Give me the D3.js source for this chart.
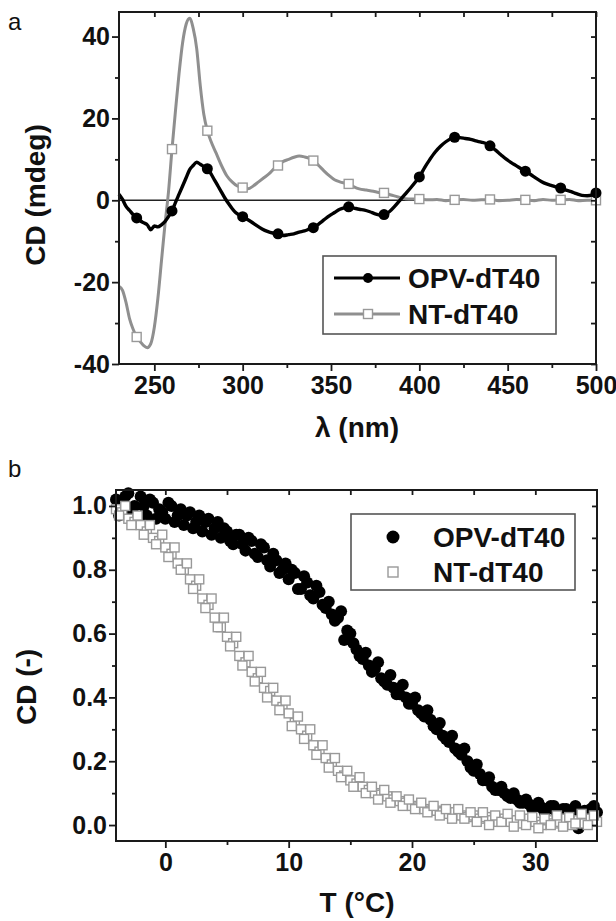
<!DOCTYPE html>
<html>
<head>
<meta charset="utf-8">
<script src="https://cdn.jsdelivr.net/npm/d3@7"></script>
<style>
  body { margin: 0; background: #fff; }
  svg text { font-family: "Liberation Sans", Arial, sans-serif; }
</style>
</head>
<body>
<div id="chart"></div>
<script>
"use strict";

// Panel a: CD spectra (wavelength in nm, CD in mdeg)
var ntLambda = [230, 232, 234, 236, 238, 240, 242, 244, 246, 248, 250, 252, 254, 256, 258, 260, 262, 264, 266, 268,
    270, 272, 274, 276, 278, 280, 282, 285, 288, 291, 294, 297, 300, 303, 306, 309, 312, 315, 318, 320,
    323, 326, 329, 332, 335, 338, 340, 343, 346, 349, 352, 355, 358, 360, 363, 366, 370, 374, 377, 380,
    384, 388, 392, 396, 400, 405, 410, 415, 420, 425, 430, 435, 440, 445, 450, 455, 460, 465, 470, 475,
    480, 485, 490, 495, 500]
var ntCD = [-21, -22, -25, -29, -31.5, -33.4, -34.5, -35.5, -36, -35, -31, -24, -15, -6, 2, 12.5, 22, 31, 38.5, 43,
    44.5, 42, 37, 28, 21, 17, 14.5, 11.5, 8.5, 6, 4.5, 3.5, 3.1, 2.8, 3.5, 4.5, 5.5, 6.5, 7.8, 8.5,
    9.5, 10, 10.5, 10.8, 10.6, 10.2, 9.7, 8.5, 7.2, 6, 5, 4.5, 4.2, 4, 3.3, 2.8, 2.5, 2.2, 1.9, 1.8,
    1.3, 0.8, 0.4, 0.3, 0.3, 0.1, 0.2, -0.1, 0.1, 0.2, 0, 0.1, 0.2, -0.1, 0, 0.2, 0.1, -0.1, 0.2, 0,
    0.1, 0.2, -0.1, 0, 0]

var opvLambda = [230, 232, 234, 236, 238, 240, 242, 244, 246, 248, 250, 252, 254, 256, 258, 260, 262, 264, 266, 268,
    270, 272, 274, 276, 278, 280, 282, 284, 286, 288, 290, 292, 294, 296, 298, 300, 302, 305, 308, 311,
    314, 317, 320, 323, 326, 329, 332, 335, 338, 340, 343, 346, 349, 352, 355, 358, 360, 363, 366, 369,
    372, 375, 378, 380, 383, 386, 389, 392, 395, 398, 400, 403, 406, 409, 412, 415, 418, 420, 423, 426,
    429, 432, 435, 438, 440, 443, 446, 449, 452, 455, 458, 460, 463, 466, 469, 472, 475, 478, 480, 483,
    486, 489, 492, 495, 498, 500]
var opvCD = [1.5, 0.2, -1.5, -2.5, -3.5, -4.3, -5, -5.5, -6, -7.2, -6.3, -6.5, -6, -5.2, -4, -2.6, -0.5, 1.5, 3.5, 5.5,
    7.5, 8.5, 9.3, 8.8, 8.2, 7.7, 6.5, 5, 3.5, 2, 0.5, -0.8, -2, -3, -3.6, -4, -4.5, -5.3, -6.2, -7,
    -7.6, -8, -8.2, -8.6, -8.4, -8.2, -7.8, -7.5, -7, -6.7, -5.8, -4.8, -3.8, -3, -2.2, -1.8, -1.6, -1.9, -2.2, -2.4,
    -2.8, -3.3, -3.6, -3.5, -2.8, -1.5, 0, 1.5, 3, 4.6, 5.7, 8, 10, 11.8, 13.2, 14.3, 15.1, 15.4, 15.3, 15.1,
    14.9, 14.5, 14.2, 13.8, 13.3, 12.3, 11.2, 10.1, 9.2, 8.4, 7.6, 7.1, 6.3, 5.4, 4.6, 4, 3.6, 3.2, 3, 2.5,
    2.1, 1.6, 1.2, 1.1, 1.3, 1.8]

// Wavelengths that carry a symbol
var markerLambda = [240, 260, 280, 300, 320, 340, 360, 380, 400, 420, 440, 460, 480, 500]

// Panel b: normalised CD against temperature, two interleaved runs
var tempC = [-4, -3.5, -3, -2.5, -2, -1.5, -1, -0.5, 0, 0.5,
    1, 1.5, 2, 2.5, 3, 3.5, 4, 4.5, 5, 5.5,
    6, 6.5, 7, 7.5, 8, 8.5, 9, 9.5, 10, 10.5,
    11, 11.5, 12, 12.5, 13, 13.5, 14, 14.5, 15, 15.5,
    16, 16.5, 17, 17.5, 18, 18.5, 19, 19.5, 20, 20.5,
    21, 21.5, 22, 22.5, 23, 23.5, 24, 24.5, 25, 25.5,
    26, 26.5, 27, 27.5, 28, 28.5, 29, 29.5, 30, 30.5,
    31, 31.5, 32, 32.5, 33, 33.5, 34, 34.5, 35]
var opvNorm = [1.02, 0.98, 1.04, 1.00, 1.03, 0.97, 1.01, 0.99, 0.96, 1.00,
    0.97, 0.94, 0.98, 0.95, 0.92, 0.96, 0.93, 0.90, 0.92, 0.88,
    0.91, 0.86, 0.89, 0.84, 0.87, 0.81, 0.83, 0.80, 0.77, 0.79,
    0.74, 0.76, 0.71, 0.73, 0.68, 0.66, 0.65, 0.58, 0.60, 0.55,
    0.52, 0.50, 0.49, 0.46, 0.44, 0.43, 0.41, 0.40, 0.38, 0.36,
    0.34, 0.33, 0.30, 0.28, 0.26, 0.24, 0.22, 0.20, 0.17, 0.16,
    0.14, 0.12, 0.11, 0.10, 0.085, 0.08, 0.07, 0.065, 0.06, 0.055,
    0.05, 0.06, 0.045, 0.05, 0.04, -0.01, 0.045, 0.05, 0.04]
var ntNorm = [0.99, 0.98, 0.96, 0.95, 0.94, 0.92, 0.90, 0.89, 0.87, 0.85,
    0.82, 0.80, 0.77, 0.75, 0.71, 0.69, 0.65, 0.62, 0.59, 0.57,
    0.53, 0.51, 0.48, 0.46, 0.43, 0.42, 0.39, 0.37, 0.35, 0.32,
    0.30, 0.28, 0.25, 0.23, 0.21, 0.19, 0.17, 0.155, 0.14, 0.13,
    0.12, 0.11, 0.10, 0.095, 0.09, 0.08, 0.075, 0.07, 0.06, 0.055,
    0.05, 0.045, 0.045, 0.04, 0.035, 0.04, 0.03, 0.025, 0.03, 0.02,
    0.025, 0.015, 0.01, 0.02, 0.01, 0.015, 0.005, 0.02, 0.01, 0.0,
    0.015, 0.005, 0.01, 0.02, 0.0, 0.015, 0.005, 0.02, 0.01]

var tempC2 = [-3.75, -3.25, -2.75, -2.25, -1.75, -1.25, -0.75, -0.25, 0.25, 0.75,
    1.25, 1.75, 2.25, 2.75, 3.25, 3.75, 4.25, 4.75, 5.25, 5.75,
    6.25, 6.75, 7.25, 7.75, 8.25, 8.75, 9.25, 9.75, 10.25, 10.75,
    11.25, 11.75, 12.25, 12.75, 13.25, 13.75, 14.25, 14.75, 15.25, 15.75,
    16.25, 16.75, 17.25, 17.75, 18.25, 18.75, 19.25, 19.75, 20.25, 20.75,
    21.25, 21.75, 22.25, 22.75, 23.25, 23.75, 24.25, 24.75, 25.25, 25.75,
    26.25, 26.75, 27.25, 27.75, 28.25, 28.75, 29.25, 29.75, 30.25, 30.75,
    31.25, 31.75, 32.25, 32.75, 33.25, 33.75, 34.25, 34.75]
var opvNorm2 = [0.97, 1.03, 0.99, 0.95, 1.00, 1.02, 0.96, 0.98, 1.01, 0.95,
    0.99, 0.97, 0.93, 0.97, 0.95, 0.91, 0.95, 0.93, 0.89, 0.91,
    0.88, 0.90, 0.85, 0.88, 0.83, 0.85, 0.79, 0.82, 0.80, 0.74,
    0.78, 0.72, 0.75, 0.69, 0.70, 0.64, 0.67, 0.61, 0.57, 0.53,
    0.54, 0.48, 0.51, 0.45, 0.47, 0.41, 0.44, 0.38, 0.40, 0.35,
    0.36, 0.31, 0.32, 0.27, 0.28, 0.23, 0.24, 0.18, 0.19, 0.14,
    0.15, 0.11, 0.12, 0.09, 0.10, 0.07, 0.08, 0.05, 0.07, 0.04,
    0.06, 0.04, 0.05, 0.03, 0.06, 0.02, 0.04, 0.06]
var ntNorm2 = [0.97, 1.00, 0.94, 0.97, 0.91, 0.94, 0.88, 0.91, 0.84, 0.87,
    0.80, 0.82, 0.74, 0.77, 0.68, 0.71, 0.62, 0.65, 0.56, 0.59,
    0.50, 0.53, 0.45, 0.48, 0.40, 0.43, 0.36, 0.39, 0.31, 0.34,
    0.27, 0.30, 0.22, 0.25, 0.18, 0.21, 0.15, 0.17, 0.12, 0.15,
    0.10, 0.12, 0.08, 0.11, 0.07, 0.09, 0.06, 0.08, 0.05, 0.07,
    0.04, 0.06, 0.03, 0.05, 0.02, 0.05, 0.02, 0.04, 0.01, 0.04,
    0.00, 0.03, 0.01, 0.035, -0.005, 0.03, 0.0, 0.025, -0.01, 0.02,
    0.0, 0.03, -0.005, 0.025, 0.005, 0.035, 0.0, 0.03]

// Tick values
var aMajorX = [250, 300, 350, 400, 450, 500]
var aMinorX = [275, 325, 375, 425, 475]
var aMajorY = [-40, -20, 0, 20, 40]
var aMinorY = [-30, -10, 10, 30]
var bMajorX = [0, 10, 20, 30]
var bMinorX = [5, 15, 25]
var bMajorY = [0, 0.2, 0.4, 0.6, 0.8, 1.0]
var bMinorY = [0.1, 0.3, 0.5, 0.7, 0.9]

var seriesNames = ["OPV-dT40", "NT-dT40"]

var width = 616, height = 921
var black = "#000", grey = "#8f8f8f"
var frameColor = "#1a1a1a"

var svg = d3.select("#chart").append("svg")
    .attr("width", width)
    .attr("height", height)

// Draws the box frame, outward major/minor ticks on bottom/left and inward ticks on top/right
function drawFrame(x, y, majorX, minorX, majorY, minorY, fmtX, fmtY) {
    var x0 = x.range()[0], x1 = x.range()[1]
    var y0 = y.range()[0], y1 = y.range()[1]
    var g = svg.append("g")

    g.append("g").attr("transform", "translate(0," + y0 + ")")
        .call(d3.axisBottom(x).tickValues(majorX).tickSize(7).tickPadding(5).tickFormat(fmtX))
    g.append("g").attr("transform", "translate(0," + y0 + ")")
        .call(d3.axisBottom(x).tickValues(minorX).tickSize(4).tickFormat(""))
    g.append("g").attr("transform", "translate(" + x0 + ",0)")
        .call(d3.axisLeft(y).tickValues(majorY).tickSize(7).tickPadding(2).tickFormat(fmtY))
    g.append("g").attr("transform", "translate(" + x0 + ",0)")
        .call(d3.axisLeft(y).tickValues(minorY).tickSize(4).tickFormat(""))
    // inward ticks on top and right
    g.append("g").attr("transform", "translate(0," + y1 + ")")
        .call(d3.axisTop(x).tickValues(majorX.concat(minorX)).tickSize(-5).tickFormat(""))
    g.append("g").attr("transform", "translate(" + x1 + ",0)")
        .call(d3.axisRight(y).tickValues(majorY.concat(minorY)).tickSize(-5).tickFormat(""))

    g.selectAll(".domain").remove()
    g.selectAll(".tick line").attr("stroke", frameColor).attr("stroke-width", 1.8)
    g.selectAll(".tick text")
        .attr("fill", "#111")
        .attr("font-size", 25)
        .attr("font-weight", "bold")
        .attr("font-family", "Liberation Sans, Arial, sans-serif")

    g.append("rect")
        .attr("x", x0).attr("y", y1)
        .attr("width", x1 - x0).attr("height", y0 - y1)
        .attr("fill", "none")
        .attr("stroke", frameColor)
        .attr("stroke-width", 2)
    return g
}

function addText(txt, x, y, size, weight, anchor, rotate) {
    var t = svg.append("text")
        .text(txt)
        .attr("font-size", size)
        .attr("font-weight", weight)
        .attr("text-anchor", anchor)
        .attr("fill", "#111")
    if (rotate) t.attr("transform", "translate(" + x + "," + y + ") rotate(-90)")
    else t.attr("x", x).attr("y", y)
    return t
}

// ---------- Panel a ----------
var xa = d3.scaleLinear().domain([230, 500]).range([119, 596])
var ya = d3.scaleLinear().domain([-40, 46]).range([364, 12])

var plotA = svg.append("g")
plotA.append("line")
    .attr("x1", xa(230)).attr("x2", xa(500))
    .attr("y1", ya(0)).attr("y2", ya(0))
    .attr("stroke", "#222").attr("stroke-width", 1.4)

var ntData = ntLambda.map((l, i) => ({ x: l, y: ntCD[i] }))
var opvData = opvLambda.map((l, i) => ({ x: l, y: opvCD[i] }))
var lineA = d3.line().x(d => xa(d.x)).y(d => ya(d.y)).curve(d3.curveMonotoneX)

plotA.append("path").datum(ntData)
    .attr("d", lineA).attr("fill", "none")
    .attr("stroke", grey).attr("stroke-width", 3)
plotA.selectAll("rect.nt")
    .data(ntData.filter(d => markerLambda.includes(d.x)))
    .enter().append("rect")
    .attr("x", d => xa(d.x) - 4.5).attr("y", d => ya(d.y) - 4.5)
    .attr("width", 9).attr("height", 9)
    .attr("fill", "#fff").attr("stroke", "#999").attr("stroke-width", 1.4)

plotA.append("path").datum(opvData)
    .attr("d", lineA).attr("fill", "none")
    .attr("stroke", black).attr("stroke-width", 3.4)
plotA.selectAll("circle.opv")
    .data(opvData.filter(d => markerLambda.includes(d.x)))
    .enter().append("circle")
    .attr("cx", d => xa(d.x)).attr("cy", d => ya(d.y))
    .attr("r", 5.5).attr("fill", black)

drawFrame(xa, ya, aMajorX, aMinorX, aMajorY, aMinorY, d => d, d => String(d))

// legend a
var legA = svg.append("g")
legA.append("rect")
    .attr("x", 323).attr("y", 256).attr("width", 233).attr("height", 78)
    .attr("fill", "#fff").attr("stroke", "#555").attr("stroke-width", 1.6)
legA.append("line").attr("x1", 334).attr("x2", 400).attr("y1", 278).attr("y2", 278)
    .attr("stroke", black).attr("stroke-width", 3)
legA.append("circle").attr("cx", 368).attr("cy", 278).attr("r", 5).attr("fill", black)
legA.append("line").attr("x1", 334).attr("x2", 400).attr("y1", 314).attr("y2", 314)
    .attr("stroke", grey).attr("stroke-width", 2.8)
legA.append("rect").attr("x", 363.5).attr("y", 309.5).attr("width", 9).attr("height", 9)
    .attr("fill", "#fff").attr("stroke", "#999").attr("stroke-width", 1.4)
addText(seriesNames[0], 408, 288, 28, "bold", "start")
addText(seriesNames[1], 408, 324, 28, "bold", "start")

addText("a", 8, 30, 24, "normal", "start")
addText("CD (mdeg)", 45, 195, 28, "bold", "middle", true)
addText("λ (nm)", 357, 437, 28, "bold", "middle")

// ---------- Panel b ----------
var xb = d3.scaleLinear().domain([-4, 35]).range([116, 597])
var yb = d3.scaleLinear().domain([-0.05, 1.05]).range([841, 490])

var opvPts = tempC.map((t, i) => ({ x: t, y: opvNorm[i] }))
    .concat(tempC2.map((t, i) => ({ x: t, y: opvNorm2[i] })))
var ntPts = tempC.map((t, i) => ({ x: t, y: ntNorm[i] }))
    .concat(tempC2.map((t, i) => ({ x: t, y: ntNorm2[i] })))

var plotB = svg.append("g")
plotB.selectAll("circle.opv")
    .data(opvPts)
    .enter().append("circle")
    .attr("cx", d => xb(d.x)).attr("cy", d => yb(d.y))
    .attr("r", 6).attr("fill", black)
plotB.selectAll("rect.nt")
    .data(ntPts)
    .enter().append("rect")
    .attr("x", d => xb(d.x) - 4.5).attr("y", d => yb(d.y) - 4.5)
    .attr("width", 9).attr("height", 9)
    .attr("fill", "#fff").attr("stroke", "#999").attr("stroke-width", 1.4)

drawFrame(xb, yb, bMajorX, bMinorX, bMajorY, bMinorY, d => d, d3.format(".1f"))

// legend b
var legB = svg.append("g")
legB.append("rect")
    .attr("x", 351).attr("y", 514).attr("width", 224).attr("height", 76)
    .attr("fill", "#fff").attr("stroke", "#555").attr("stroke-width", 1.6)
legB.append("circle").attr("cx", 393).attr("cy", 537).attr("r", 6.5).attr("fill", black)
legB.append("rect").attr("x", 388).attr("y", 567).attr("width", 10).attr("height", 10)
    .attr("fill", "#fff").attr("stroke", "#999").attr("stroke-width", 1.4)
addText(seriesNames[0], 433, 547, 28, "bold", "start")
addText(seriesNames[1], 433, 582, 28, "bold", "start")

addText("b", 8, 477, 24, "normal", "start")
addText("CD (-)", 36, 687, 28, "bold", "middle", true)
addText("T (°C)", 357, 912, 28, "bold", "middle")
</script>
</body>
</html>
